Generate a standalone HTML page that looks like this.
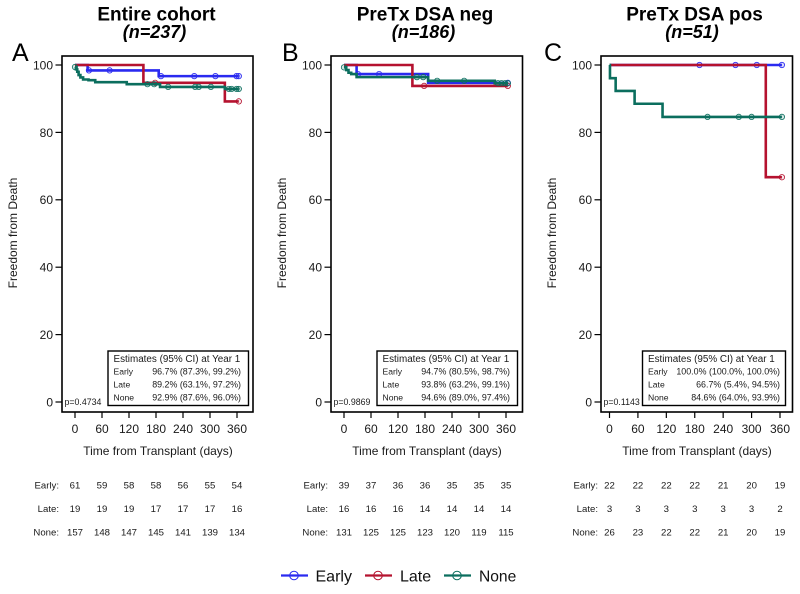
<!DOCTYPE html>
<html lang="en">
<head>
<meta charset="utf-8">
<title>Freedom from Death by cohort</title>
<style>
html,body{margin:0;padding:0;background:#fff;width:800px;height:594px;overflow:hidden}
svg{display:block;font-family:"Liberation Sans",Arial,sans-serif}
</style>
</head>
<body>
<svg id="chart" xmlns="http://www.w3.org/2000/svg" width="800" height="594" viewBox="0 0 800 594">
  <g>
    <g>
      <line x1="281" x2="308" y1="575.5" y2="575.5" stroke="#2a2af0" stroke-width="2.2"/>
      <circle cx="294" cy="575.5" r="4.3" fill="none" stroke="#2a2af0" stroke-width="1"/>
      <text x="315.5" y="581.5" font-size="16" fill="#111">Early</text>
    </g>
    <g>
      <line x1="365" x2="392" y1="575.5" y2="575.5" stroke="#b5122f" stroke-width="2.2"/>
      <circle cx="378" cy="575.5" r="4.3" fill="none" stroke="#b5122f" stroke-width="1"/>
      <text x="400" y="581.5" font-size="16" fill="#111">Late</text>
    </g>
    <g>
      <line x1="444" x2="471" y1="575.5" y2="575.5" stroke="#0b6e5e" stroke-width="2.2"/>
      <circle cx="457" cy="575.5" r="4.3" fill="none" stroke="#0b6e5e" stroke-width="1"/>
      <text x="479" y="581.5" font-size="15.6" fill="#111">None</text>
    </g>
  </g>
</svg>
<script>
// Shared axis data
const xTickLabels = [0, 60, 120, 180, 240, 300, 360];
const yTickLabels = [0, 20, 40, 60, 80, 100];
const groupNames = ['Early', 'Late', 'None'];
const estimatesHeader = 'Estimates (95% CI) at Year 1';

// Panel A: step days and survival values
const aEarlyDays = [0, 28, 186];
const aEarlyVals = [100, 98.4, 96.7];
const aEarlyCensored = [31, 77, 191, 265, 312, 359, 364];
const aLateDays = [0, 152, 333];
const aLateVals = [100, 94.7, 89.2];
const aLateCensored = [178, 364];
const aNoneDays = [0, 2, 5, 8, 12, 18, 30, 45, 115, 189, 333];
const aNoneVals = [99.4, 98.7, 98, 97, 96.3, 95.7, 95.5, 94.9, 94.3, 93.5, 92.9];
const aNoneCensored = [0, 161, 176, 207, 267, 275, 302, 342, 348, 359, 364];
const aEstimates = ['96.7% (87.3%, 99.2%)', '89.2% (63.1%, 97.2%)', '92.9% (87.6%, 96.0%)'];
const aAtRiskEarly = [61, 59, 58, 58, 56, 55, 54];
const aAtRiskLate = [19, 19, 19, 17, 17, 17, 16];
const aAtRiskNone = [157, 148, 147, 145, 141, 139, 134];

// Panel B
const bEarlyDays = [0, 28, 187];
const bEarlyVals = [100, 97.3, 94.7];
const bEarlyCensored = [31, 78, 364];
const bLateDays = [0, 152];
const bLateVals = [100, 93.8];
const bLateCensored = [178, 364];
const bNoneDays = [0, 5, 10, 16, 28, 187, 335];
const bNoneVals = [99.3, 98.5, 97.7, 97.3, 96.4, 95.3, 94.6];
const bNoneCensored = [0, 162, 176, 207, 267, 342, 350, 358, 364];
const bEstimates = ['94.7% (80.5%, 98.7%)', '93.8% (63.2%, 99.1%)', '94.6% (89.0%, 97.4%)'];
const bAtRiskEarly = [39, 37, 36, 36, 35, 35, 35];
const bAtRiskLate = [16, 16, 16, 14, 14, 14, 14];
const bAtRiskNone = [131, 125, 125, 123, 120, 119, 115];

// Panel C
const cEarlyDays = [0];
const cEarlyVals = [100];
const cEarlyCensored = [190, 266, 311, 364];
const cLateDays = [0, 330];
const cLateVals = [100, 66.7];
const cLateCensored = [364];
const cNoneDays = [0, 1, 13, 53, 112];
const cNoneVals = [100, 96.1, 92.3, 88.5, 84.6];
const cNoneCensored = [207, 273, 300, 364];
const cEstimates = ['100.0% (100.0%, 100.0%)', '66.7% (5.4%, 94.5%)', '84.6% (64.0%, 93.9%)'];
const cAtRiskEarly = [22, 22, 22, 22, 21, 20, 19];
const cAtRiskLate = [3, 3, 3, 3, 3, 3, 2];
const cAtRiskNone = [26, 23, 22, 22, 21, 20, 19];

const SVGNS = 'http://www.w3.org/2000/svg';
const root = document.getElementById('chart');
const colors = ['#2a2af0', '#b5122f', '#0b6e5e'];
const censorFill = ['rgba(42,42,240,0.18)', 'rgba(181,18,47,0.1)', 'rgba(11,110,94,0.18)'];

function node(parent, tag, props) {
  const el = document.createElementNS(SVGNS, tag);
  for (const k in props) el.setAttribute(k, props[k]);
  parent.appendChild(el);
  return el;
}
function label(parent, str, x, y, size, anchor, extra) {
  const el = node(parent, 'text', Object.assign({x: x, y: y, 'font-size': size, 'text-anchor': anchor, fill: '#1a1a1a'}, extra || {}));
  el.textContent = str;
  return el;
}

function drawPanel(p) {
  const g = node(root, 'g', {});
  
  

  const xScale = d => p.x0 + (d / 360) * (p.x360 - p.x0);
  const yScale = v => 402 - (v / 100) * 337;
  const top = 56, bottom = 412;

  const t1 = label(g, p.title, p.titleX, 20.5, 19, 'middle', {'font-weight': 'bold', fill: '#000'});
  
  
  const t2 = label(g, p.subtitle, p.subX, 38, 18, 'middle', {'font-weight': 'bold', 'font-style': 'italic', fill: '#000'});
  
  
  const letter = label(g, p.letter, p.letterX, 61, 25, 'start', {fill: '#000'});
  
  

  const frame = node(g, 'rect', {x: p.left, y: top, width: p.right - p.left, height: bottom - top, fill: 'none', stroke: '#000', 'stroke-width': 1.6});
  
  

  yTickLabels.forEach(v => {
    const tick = node(g, 'line', {x1: p.left - 6.5, x2: p.left, y1: yScale(v), y2: yScale(v), stroke: '#000', 'stroke-width': 1.2});
    
    
    const tl = label(g, String(v), p.left - 9, yScale(v) + 4.4, 12, 'end');
    
    
  });
  xTickLabels.forEach(d => {
    const tick = node(g, 'line', {x1: xScale(d), x2: xScale(d), y1: bottom, y2: bottom + 6, stroke: '#000', 'stroke-width': 1.2});
    
    
    const tl = label(g, String(d), xScale(d), 433, 12, 'middle');
    
    
  });

  const yTitleX = p.left - 45;
  const yTitle = label(g, 'Freedom from Death', yTitleX, 233, 12, 'middle', {transform: 'rotate(-90 ' + yTitleX + ' 233)'});
  
  
  const xTitle = label(g, 'Time from Transplant (days)', p.xTitleX, 455, 12, 'middle');
  
  

  p.series.forEach((s, i) => {
    let d = 'M' + xScale(s.days[0]) + ' ' + yScale(s.vals[0]);
    for (let k = 1; k < s.days.length; k++) {
      d += 'H' + xScale(s.days[k]) + 'V' + yScale(s.vals[k]);
    }
    d += 'H' + xScale(364);
    const line = node(g, 'path', {d: d, fill: 'none', stroke: colors[i], 'stroke-width': 2.6});
    
    
    const valueAt = day => {
      let v = s.vals[0];
      s.days.forEach((dd, k) => { if (dd <= day) v = s.vals[k]; });
      return v;
    };
    s.censored.forEach(day => {
      const c = node(g, 'circle', {cx: xScale(day), cy: yScale(valueAt(day)), r: 2.7, fill: censorFill[i], stroke: colors[i], 'stroke-width': 0.8});
      
      
    });
  });

  const box = node(g, 'rect', {x: p.boxL, y: 351, width: p.boxR - p.boxL, height: 54.5, fill: '#fff', stroke: '#000', 'stroke-width': 1.4});
  
  
  const head = label(g, estimatesHeader, p.boxL + 5.5, 362, 9.9, 'start');
  
  
  p.estimates.forEach((str, i) => {
    const rowY = 374.5 + i * 13;
    const rl = label(g, groupNames[i], p.boxL + 5.5, rowY, 8.6, 'start');
    
    
    const rv = label(g, str, p.boxR - p.valuePad, rowY, 8.9, 'end');
    
    
  });

  const pv = label(g, p.pValue, p.left + 2.5, 405, 8.8, 'start');
  
  

  p.atRisk.forEach((row, i) => {
    const rowY = 488.5 + i * 23.5;
    const rl = label(g, groupNames[i] + ':', p.left - 3, rowY, 9.6, 'end');
    
    
    row.forEach((n, k) => {
      const cell = label(g, String(n), xScale(xTickLabels[k]), rowY, 9.6, 'middle');
      
      
    });
  });
}

drawPanel({
  key: 'a', letter: 'A', title: 'Entire cohort', subtitle: '(n=237)', pValue: 'p=0.4734',
  left: 62, right: 253, x0: 75, x360: 237, boxL: 108, boxR: 248.5, valuePad: 7.5,
  titleX: 156.5, subX: 154.5, letterX: 12, xTitleX: 158,
  series: [
    {days: aEarlyDays, vals: aEarlyVals, censored: aEarlyCensored},
    {days: aLateDays, vals: aLateVals, censored: aLateCensored},
    {days: aNoneDays, vals: aNoneVals, censored: aNoneCensored}
  ],
  estimates: aEstimates, atRisk: [aAtRiskEarly, aAtRiskLate, aAtRiskNone]
});
drawPanel({
  key: 'b', letter: 'B', title: 'PreTx DSA neg', subtitle: '(n=186)', pValue: 'p=0.9869',
  left: 331, right: 522.5, x0: 344, x360: 506, boxL: 377, boxR: 517.5, valuePad: 7.5,
  titleX: 425, subX: 423.5, letterX: 282, xTitleX: 427,
  series: [
    {days: bEarlyDays, vals: bEarlyVals, censored: bEarlyCensored},
    {days: bLateDays, vals: bLateVals, censored: bLateCensored},
    {days: bNoneDays, vals: bNoneVals, censored: bNoneCensored}
  ],
  estimates: bEstimates, atRisk: [bAtRiskEarly, bAtRiskLate, bAtRiskNone]
});
drawPanel({
  key: 'c', letter: 'C', title: 'PreTx DSA pos', subtitle: '(n=51)', pValue: 'p=0.1143',
  left: 601, right: 792.5, x0: 609.5, x360: 780, boxL: 642.5, boxR: 785.5, valuePad: 5.5,
  titleX: 694.5, subX: 692, letterX: 544, xTitleX: 697,
  series: [
    {days: cEarlyDays, vals: cEarlyVals, censored: cEarlyCensored},
    {days: cLateDays, vals: cLateVals, censored: cLateCensored},
    {days: cNoneDays, vals: cNoneVals, censored: cNoneCensored}
  ],
  estimates: cEstimates, atRisk: [cAtRiskEarly, cAtRiskLate, cAtRiskNone]
});
</script>
</body>
</html>
